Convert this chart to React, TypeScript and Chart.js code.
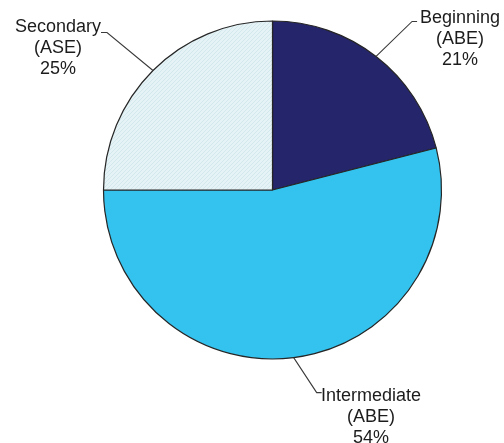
import React, { useRef, useEffect } from 'react';
import { Chart, registerables } from 'chart.js';

Chart.register(...registerables);

// Slice data, clockwise from 12 o'clock
const categories = ['Beginning (ABE)', 'Intermediate (ABE)', 'Secondary (ASE)'];
const labelLines = [
  ['Beginning', '(ABE)'],
  ['Intermediate', '(ABE)'],
  ['Secondary', '(ASE)'],
];
const shares = [21, 54, 25];

// Where each callout sits relative to its slice (elbow offset, text block)
const callouts = [
  { elbowDx: 36, elbowDy: -35, tailDx: 5, textX: 460, textY: 23 },
  { elbowDx: 23, elbowDy: 35, tailDx: 5, textX: 371, textY: 401 },
  { elbowDx: -46, elbowDy: -38, tailDx: -6, textX: 58, textY: 32 },
];

const makeHatch = (): CanvasPattern | string => {
  const c = document.createElement('canvas');
  c.width = 4;
  c.height = 4;
  const g = c.getContext('2d');
  if (!g) return '#e4f2f5';
  g.fillStyle = '#e6f3f6';
  g.fillRect(0, 0, 4, 4);
  g.strokeStyle = '#d2e8ed';
  g.lineWidth = 1;
  g.beginPath();
  g.moveTo(0, 4);
  g.lineTo(4, 0);
  g.stroke();
  const p = g.createPattern(c, 'repeat');
  return p || '#e4f2f5';
};

const calloutPlugin = {
  id: 'callouts',
  afterDatasetsDraw(chart: Chart) {
    const { ctx } = chart;
    const meta = chart.getDatasetMeta(0);
    ctx.save();
    meta.data.forEach((el: any, i: number) => {
      const { x, y, startAngle, endAngle, outerRadius } = el.getProps(
        ['x', 'y', 'startAngle', 'endAngle', 'outerRadius'],
        true
      );
      const mid = (startAngle + endAngle) / 2;
      const ax = x + Math.cos(mid) * outerRadius;
      const ay = y + Math.sin(mid) * outerRadius;
      const c = callouts[i];
      const ex = ax + c.elbowDx;
      const ey = ay + c.elbowDy;
      ctx.strokeStyle = '#3a3a3a';
      ctx.lineWidth = 1.1;
      ctx.beginPath();
      ctx.moveTo(ax, ay);
      ctx.lineTo(ex, ey);
      ctx.lineTo(ex + c.tailDx, ey);
      ctx.stroke();

      ctx.fillStyle = '#1c1c1c';
      ctx.font = '18px "Liberation Sans", Arial, sans-serif';
      ctx.textAlign = 'center';
      ctx.textBaseline = 'alphabetic';
      const lines = [...labelLines[i], `${shares[i]}%`];
      lines.forEach((t, k) => ctx.fillText(t, c.textX, c.textY + k * 21));
    });
    ctx.restore();
  },
};

const App: React.FC = () => {
  const canvasRef = useRef<HTMLCanvasElement>(null);
  const chartInstance = useRef<Chart | null>(null);

  useEffect(() => {
    if (!canvasRef.current) return;
    const ctx = canvasRef.current.getContext('2d');
    if (!ctx) return;

    if (chartInstance.current) {
      chartInstance.current.destroy();
    }

    chartInstance.current = new Chart(ctx, {
      type: 'pie',
      data: {
        labels: categories,
        datasets: [
          {
            data: shares,
            backgroundColor: ['#25256b', '#33c3ee', makeHatch()],
            borderColor: '#262626',
            borderWidth: 1.2,
            radius: 169,
          },
        ],
      },
      options: {
        animation: false,
        responsive: true,
        maintainAspectRatio: false,
        layout: { padding: { left: 100, right: 59, top: 18, bottom: 81 } },
        plugins: {
          legend: { display: false },
          tooltip: { enabled: false },
        },
      },
      plugins: [calloutPlugin],
    });

    return () => {
      if (chartInstance.current) {
        chartInstance.current.destroy();
        chartInstance.current = null;
      }
    };
  }, []);

  return (
    <div style={{ position: 'absolute', left: 0, top: 0, width: '504px', height: '443px', background: '#fff' }}>
      <canvas ref={canvasRef} />
    </div>
  );
};

export default App;
